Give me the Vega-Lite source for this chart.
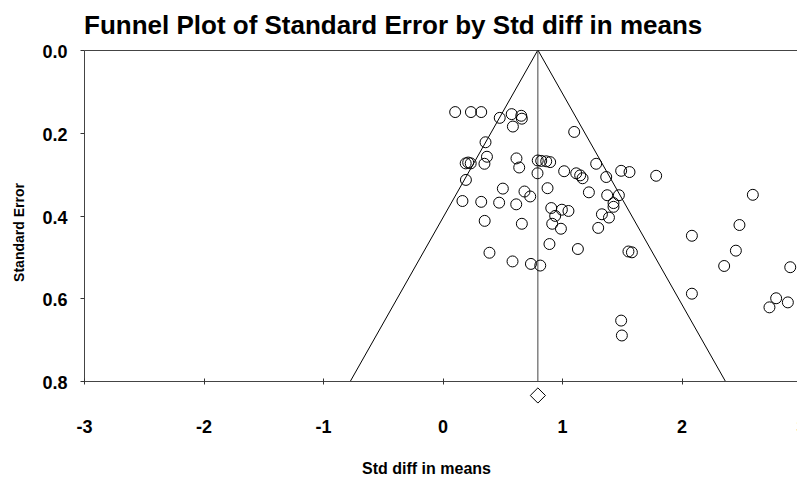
{
  "$schema": "https://vega.github.io/schema/vega-lite/v6.json",
  "width": 717,
  "height": 331,
  "autosize": {"type": "none"},
  "padding": {"left": 84, "top": 50, "right": 0, "bottom": 98},
  "background": "white",
  "title": {
    "text": "Funnel Plot of Standard Error by Std diff in means",
    "anchor": "start",
    "frame": "group",
    "font": "Liberation Sans",
    "fontSize": 26,
    "fontWeight": "bold",
    "color": "black",
    "baseline": "alphabetic",
    "offset": 9,
    "dy": 25
  },
  "config": {
    "font": "Liberation Sans",
    "view": {"stroke": "#444444", "strokeWidth": 1},
    "axis": {"grid": false}
  },
  "datasets": {
    "studies": [
      {"d": 0.106, "se": 0.150}, {"d": 0.238, "se": 0.150}, {"d": 0.324, "se": 0.150},
      {"d": 0.479, "se": 0.164}, {"d": 0.579, "se": 0.155}, {"d": 0.659, "se": 0.159},
      {"d": 0.664, "se": 0.166}, {"d": 0.589, "se": 0.185}, {"d": 1.102, "se": 0.198},
      {"d": 0.360, "se": 0.223}, {"d": 0.372, "se": 0.258}, {"d": 0.194, "se": 0.274},
      {"d": 0.215, "se": 0.272}, {"d": 0.236, "se": 0.274}, {"d": 0.351, "se": 0.275},
      {"d": 0.619, "se": 0.262}, {"d": 0.642, "se": 0.284}, {"d": 0.797, "se": 0.267},
      {"d": 0.826, "se": 0.268}, {"d": 0.868, "se": 0.269}, {"d": 0.901, "se": 0.271},
      {"d": 0.795, "se": 0.298}, {"d": 1.018, "se": 0.293}, {"d": 1.119, "se": 0.298},
      {"d": 1.152, "se": 0.303}, {"d": 1.172, "se": 0.310}, {"d": 1.286, "se": 0.275},
      {"d": 1.370, "se": 0.307}, {"d": 1.495, "se": 0.292}, {"d": 1.565, "se": 0.295},
      {"d": 1.788, "se": 0.304}, {"d": 0.196, "se": 0.314}, {"d": 0.505, "se": 0.335},
      {"d": 0.879, "se": 0.334}, {"d": 0.686, "se": 0.342}, {"d": 0.734, "se": 0.354},
      {"d": 1.225, "se": 0.344}, {"d": 1.378, "se": 0.351}, {"d": 1.476, "se": 0.351},
      {"d": 1.431, "se": 0.370}, {"d": 1.431, "se": 0.379}, {"d": 0.167, "se": 0.365},
      {"d": 0.324, "se": 0.367}, {"d": 0.474, "se": 0.369}, {"d": 0.617, "se": 0.373},
      {"d": 0.910, "se": 0.382}, {"d": 0.999, "se": 0.386}, {"d": 1.054, "se": 0.389},
      {"d": 0.943, "se": 0.401}, {"d": 1.334, "se": 0.397}, {"d": 1.393, "se": 0.405},
      {"d": 0.353, "se": 0.413}, {"d": 0.664, "se": 0.420}, {"d": 0.918, "se": 0.420},
      {"d": 0.991, "se": 0.432}, {"d": 1.303, "se": 0.430}, {"d": 2.597, "se": 0.350},
      {"d": 2.485, "se": 0.423}, {"d": 2.087, "se": 0.449}, {"d": 0.895, "se": 0.469},
      {"d": 0.393, "se": 0.490}, {"d": 1.133, "se": 0.481}, {"d": 1.556, "se": 0.487},
      {"d": 1.585, "se": 0.489}, {"d": 2.455, "se": 0.485}, {"d": 0.586, "se": 0.511},
      {"d": 0.740, "se": 0.517}, {"d": 0.818, "se": 0.521}, {"d": 2.357, "se": 0.522},
      {"d": 2.910, "se": 0.525}, {"d": 2.087, "se": 0.589}, {"d": 2.792, "se": 0.600},
      {"d": 2.890, "se": 0.610}, {"d": 2.736, "se": 0.622}, {"d": 1.495, "se": 0.654},
      {"d": 1.501, "se": 0.690}
    ],
    "funnel": [
      {"d": -0.770, "se": 0.8},
      {"d": 0.798, "se": 0.0},
      {"d": 2.366, "se": 0.8}
    ],
    "mean": [
      {"d": 0.798, "se_top": 0.0, "se_bottom": 0.8}
    ],
    "summary": [
      {"d": 0.798, "se": 0.835}
    ]
  },
  "layer": [
    {
      "data": {"name": "funnel"},
      "mark": {"type": "line", "color": "black", "strokeWidth": 1},
      "encoding": {
        "x": {
          "field": "d", "type": "quantitative",
          "scale": {"domain": [-3, 3], "nice": false, "zero": false},
          "axis": {
            "values": [-3, -2, -1, 0, 1, 2, 3],
            "labelExpr": "'' + datum.value",
            "domain": false,
            "offset": -3,
            "tickSize": 6,
            "tickColor": "#333333",
            "labelFont": "Liberation Sans",
            "labelFontSize": 18,
            "labelFontWeight": "bold",
            "labelColor": "black",
            "labelPadding": 34,
            "labelFlush": false,
            "labelOverlap": false,
            "title": "Std diff in means",
            "titleFont": "Liberation Sans",
            "titleFontSize": 16,
            "titleFontWeight": "bold",
            "titleColor": "black",
            "titleX": 342,
            "titleY": 90,
            "titleBaseline": "middle"
          }
        },
        "y": {
          "field": "se", "type": "quantitative",
          "scale": {"domain": [0, 0.8], "nice": false, "zero": false, "reverse": true},
          "axis": {
            "values": [0, 0.2, 0.4, 0.6, 0.8],
            "format": ".1f",
            "domain": false,
            "tickSize": 4,
            "tickColor": "#333333",
            "labelFont": "Liberation Sans",
            "labelFontSize": 18,
            "labelFontWeight": "bold",
            "labelColor": "black",
            "labelPadding": 13,
            "labelOffset": 2.5,
            "labelFlush": false,
            "labelOverlap": false,
            "title": "Standard Error",
            "titleFont": "Liberation Sans",
            "titleFontSize": 14,
            "titleFontWeight": "bold",
            "titleColor": "black",
            "titleAngle": -90,
            "titleX": -65,
            "titleY": 182,
            "titleAlign": "center",
            "titleBaseline": "middle"
          }
        },
        "order": {"value": 0}
      }
    },
    {
      "data": {"name": "mean"},
      "mark": {"type": "rule", "color": "#444444", "strokeWidth": 1},
      "encoding": {
        "x": {"field": "d", "type": "quantitative"},
        "y": {"field": "se_top", "type": "quantitative"},
        "y2": {"field": "se_bottom"}
      }
    },
    {
      "data": {"name": "studies"},
      "mark": {"type": "point", "shape": "circle", "filled": false, "color": "black", "strokeWidth": 1, "size": 120, "opacity": 1},
      "encoding": {
        "x": {"field": "d", "type": "quantitative"},
        "y": {"field": "se", "type": "quantitative"}
      }
    },
    {
      "data": {"name": "summary"},
      "mark": {"type": "point", "shape": "diamond", "filled": false, "color": "black", "strokeWidth": 1, "size": 230, "opacity": 1, "clip": false},
      "encoding": {
        "x": {"field": "d", "type": "quantitative"},
        "y": {"field": "se", "type": "quantitative"}
      }
    }
  ]
}
